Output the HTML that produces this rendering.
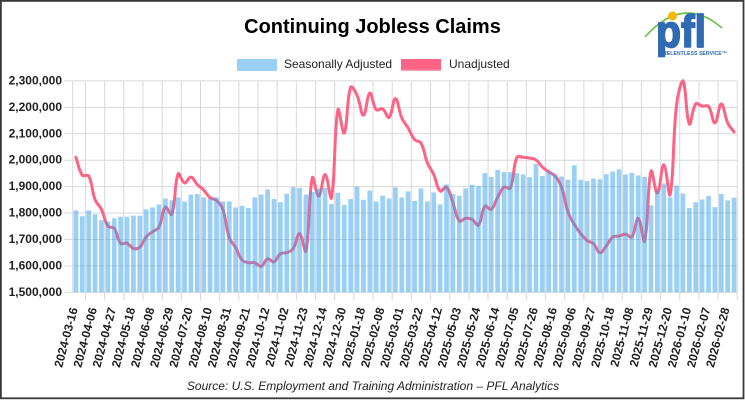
<!DOCTYPE html>
<html><head><meta charset="utf-8"><style>html,body{margin:0;padding:0;background:#fff}svg{display:block}</style></head>
<body>
<svg width="745" height="400" viewBox="0 0 745 400" font-family="'Liberation Sans', Arial, sans-serif">
<rect width="745" height="400" fill="#fff"/>
<g stroke="#d9d9d9" stroke-width="1">
<line x1="64" x2="737.3" y1="80.9" y2="80.9"/><line x1="64" x2="737.3" y1="107.4" y2="107.4"/><line x1="64" x2="737.3" y1="133.8" y2="133.8"/><line x1="64" x2="737.3" y1="160.2" y2="160.2"/><line x1="64" x2="737.3" y1="186.6" y2="186.6"/><line x1="64" x2="737.3" y1="213" y2="213"/><line x1="64" x2="737.3" y1="239.5" y2="239.5"/><line x1="64" x2="737.3" y1="265.9" y2="265.9"/><line x1="64" x2="737.3" y1="292.3" y2="292.3"/>
<line x1="72.7" x2="72.7" y1="80.9" y2="292.3"/>
<line x1="85.48" x2="85.48" y1="80.9" y2="300.5"/><line x1="104.65" x2="104.65" y1="80.9" y2="300.5"/><line x1="123.82" x2="123.82" y1="80.9" y2="300.5"/><line x1="142.99" x2="142.99" y1="80.9" y2="300.5"/><line x1="162.16" x2="162.16" y1="80.9" y2="300.5"/><line x1="181.33" x2="181.33" y1="80.9" y2="300.5"/><line x1="200.5" x2="200.5" y1="80.9" y2="300.5"/><line x1="219.67" x2="219.67" y1="80.9" y2="300.5"/><line x1="238.84" x2="238.84" y1="80.9" y2="300.5"/><line x1="258.01" x2="258.01" y1="80.9" y2="300.5"/><line x1="277.18" x2="277.18" y1="80.9" y2="300.5"/><line x1="296.35" x2="296.35" y1="80.9" y2="300.5"/><line x1="315.52" x2="315.52" y1="80.9" y2="300.5"/><line x1="334.69" x2="334.69" y1="80.9" y2="300.5"/><line x1="353.86" x2="353.86" y1="80.9" y2="300.5"/><line x1="373.03" x2="373.03" y1="80.9" y2="300.5"/><line x1="392.2" x2="392.2" y1="80.9" y2="300.5"/><line x1="411.37" x2="411.37" y1="80.9" y2="300.5"/><line x1="430.54" x2="430.54" y1="80.9" y2="300.5"/><line x1="449.71" x2="449.71" y1="80.9" y2="300.5"/><line x1="468.88" x2="468.88" y1="80.9" y2="300.5"/><line x1="488.05" x2="488.05" y1="80.9" y2="300.5"/><line x1="507.22" x2="507.22" y1="80.9" y2="300.5"/><line x1="526.39" x2="526.39" y1="80.9" y2="300.5"/><line x1="545.56" x2="545.56" y1="80.9" y2="300.5"/><line x1="564.73" x2="564.73" y1="80.9" y2="300.5"/><line x1="583.9" x2="583.9" y1="80.9" y2="300.5"/><line x1="603.07" x2="603.07" y1="80.9" y2="300.5"/><line x1="622.24" x2="622.24" y1="80.9" y2="300.5"/><line x1="641.41" x2="641.41" y1="80.9" y2="300.5"/><line x1="660.58" x2="660.58" y1="80.9" y2="300.5"/><line x1="679.75" x2="679.75" y1="80.9" y2="300.5"/><line x1="698.92" x2="698.92" y1="80.9" y2="300.5"/><line x1="718.09" x2="718.09" y1="80.9" y2="300.5"/><line x1="737.26" x2="737.26" y1="80.9" y2="300.5"/>
</g>

<path id="lnpath" d="" fill="none" stroke="#ff6384" stroke-width="3" stroke-linejoin="round" stroke-linecap="round"/>

<g transform="translate(72.7 292.3) scale(6.39 -0.2642)">
<polyline id="ln" fill="none" stroke="#ff6384" stroke-width="3" vector-effect="non-scaling-stroke" stroke-linejoin="round" points="0.5,511 1.5,443 2.5,441 3.5,351 4.5,314 5.5,251 6.5,242 7.5,185 8.5,186 9.5,166 10.5,171 11.5,210 12.5,229 13.5,247 14.5,322 15.5,295 16.5,448 17.5,414 18.5,436 19.5,408 20.5,387 21.5,358 22.5,348 23.5,314 24.5,207 25.5,169 26.5,122 27.5,112 28.5,112 29.5,98 30.5,127 31.5,115 32.5,146 33.5,150 34.5,165 35.5,222 36.5,156 37.5,433 38.5,364 39.5,446 40.5,358 41.5,691 42.5,603 43.5,776 44.5,746 45.5,670 46.5,754 47.5,691 48.5,694 49.5,662 50.5,733 51.5,660 52.5,622 53.5,578 54.5,565 55.5,490 56.5,446 57.5,383 58.5,398 59.5,339 60.5,270 61.5,280 62.5,276 63.5,254 64.5,326 65.5,314 66.5,360 67.5,398 68.5,395 69.5,510 70.5,511 71.5,508 72.5,501 73.5,474 74.5,456 75.5,440 76.5,398 77.5,305 78.5,257 79.5,222 80.5,196 81.5,184 82.5,150 83.5,175 84.5,209 85.5,213 86.5,220 87.5,210 88.5,280 89.5,194 90.5,458 91.5,376 92.5,483 93.5,370 94.5,710 95.5,801 96.5,637 97.5,713 98.5,705 99.5,704 100.5,641 101.5,713 102.5,641 103.5,607"/>
<g fill="rgba(54,162,235,0.5)">
<rect x="0.13" width=".74" height="310"/><rect x="1.13" width=".74" height="288"/><rect x="2.13" width=".74" height="310"/><rect x="3.13" width=".74" height="295"/><rect x="4.13" width=".74" height="273"/><rect x="5.13" width=".74" height="268"/><rect x="6.13" width=".74" height="280"/><rect x="7.13" width=".74" height="286"/><rect x="8.13" width=".74" height="286"/><rect x="9.13" width=".74" height="290"/>
<rect x="10.13" width=".74" height="290"/><rect x="11.13" width=".74" height="314"/><rect x="12.13" width=".74" height="321"/><rect x="13.13" width=".74" height="332"/><rect x="14.13" width=".74" height="355"/><rect x="15.13" width=".74" height="348"/><rect x="16.13" width=".74" height="359"/><rect x="17.13" width=".74" height="344"/><rect x="18.13" width=".74" height="370"/><rect x="19.13" width=".74" height="372"/>
<rect x="20.13" width=".74" height="359"/><rect x="21.13" width=".74" height="355"/><rect x="22.13" width=".74" height="359"/><rect x="23.13" width=".74" height="344"/><rect x="24.13" width=".74" height="344"/><rect x="25.13" width=".74" height="321"/><rect x="26.13" width=".74" height="327"/><rect x="27.13" width=".74" height="319"/><rect x="28.13" width=".74" height="359"/><rect x="29.13" width=".74" height="370"/>
<rect x="30.13" width=".74" height="389"/><rect x="31.13" width=".74" height="353"/><rect x="32.13" width=".74" height="341"/><rect x="33.13" width=".74" height="373"/><rect x="34.13" width=".74" height="398"/><rect x="35.13" width=".74" height="395"/><rect x="36.13" width=".74" height="370"/><rect x="37.13" width=".74" height="380"/><rect x="38.13" width=".74" height="393"/><rect x="39.13" width=".74" height="395"/>
<rect x="40.13" width=".74" height="334"/><rect x="41.13" width=".74" height="377"/><rect x="42.13" width=".74" height="331"/><rect x="43.13" width=".74" height="353"/><rect x="44.13" width=".74" height="400"/><rect x="45.13" width=".74" height="350"/><rect x="46.13" width=".74" height="385"/><rect x="47.13" width=".74" height="344"/><rect x="48.13" width=".74" height="366"/><rect x="49.13" width=".74" height="355"/>
<rect x="50.13" width=".74" height="397"/><rect x="51.13" width=".74" height="359"/><rect x="52.13" width=".74" height="382"/><rect x="53.13" width=".74" height="346"/><rect x="54.13" width=".74" height="393"/><rect x="55.13" width=".74" height="344"/><rect x="56.13" width=".74" height="378"/><rect x="57.13" width=".74" height="333"/><rect x="58.13" width=".74" height="408"/><rect x="59.13" width=".74" height="372"/>
<rect x="60.13" width=".74" height="366"/><rect x="61.13" width=".74" height="393"/><rect x="62.13" width=".74" height="407"/><rect x="63.13" width=".74" height="402"/><rect x="64.13" width=".74" height="451"/><rect x="65.13" width=".74" height="437"/><rect x="66.13" width=".74" height="463"/><rect x="67.13" width=".74" height="455"/><rect x="68.13" width=".74" height="455"/><rect x="69.13" width=".74" height="451"/>
<rect x="70.13" width=".74" height="446"/><rect x="71.13" width=".74" height="436"/><rect x="72.13" width=".74" height="486"/><rect x="73.13" width=".74" height="440"/><rect x="74.13" width=".74" height="459"/><rect x="75.13" width=".74" height="446"/><rect x="76.13" width=".74" height="438"/><rect x="77.13" width=".74" height="426"/><rect x="78.13" width=".74" height="481"/><rect x="79.13" width=".74" height="426"/>
<rect x="80.13" width=".74" height="421"/><rect x="81.13" width=".74" height="430"/><rect x="82.13" width=".74" height="428"/><rect x="83.13" width=".74" height="447"/><rect x="84.13" width=".74" height="457"/><rect x="85.13" width=".74" height="465"/><rect x="86.13" width=".74" height="446"/><rect x="87.13" width=".74" height="452"/><rect x="88.13" width=".74" height="442"/><rect x="89.13" width=".74" height="437"/>
<rect x="90.13" width=".74" height="329"/><rect x="91.13" width=".74" height="385"/><rect x="92.13" width=".74" height="412"/><rect x="93.13" width=".74" height="359"/><rect x="94.13" width=".74" height="404"/><rect x="95.13" width=".74" height="374"/><rect x="96.13" width=".74" height="319"/><rect x="97.13" width=".74" height="341"/><rect x="98.13" width=".74" height="351"/><rect x="99.13" width=".74" height="364"/>
<rect x="100.13" width=".74" height="322"/><rect x="101.13" width=".74" height="372"/><rect x="102.13" width=".74" height="348"/><rect x="103.13" width=".74" height="358"/>
</g>
</g>

<!-- Y labels -->
<g font-size="12" font-weight="bold" fill="#1f1f1f" text-anchor="end" dominant-baseline="central">
<text x="62" y="80.4">2,300,000</text><text x="62" y="106.9">2,200,000</text><text x="62" y="133.3">2,100,000</text><text x="62" y="159.7">2,000,000</text><text x="62" y="186.1">1,900,000</text><text x="62" y="212.5">1,800,000</text><text x="62" y="239">1,700,000</text><text x="62" y="265.4">1,600,000</text><text x="62" y="291.8">1,500,000</text>
</g>

<!-- X labels -->
<g font-size="12" font-weight="bold" fill="#1f1f1f" text-anchor="end" dominant-baseline="central">
<text transform="translate(74.0 307.8) rotate(-75)">2024-03-16</text>
<text transform="translate(93.2 307.8) rotate(-75)">2024-04-06</text>
<text transform="translate(112.3 307.8) rotate(-75)">2024-04-27</text>
<text transform="translate(131.5 307.8) rotate(-75)">2024-05-18</text>
<text transform="translate(150.7 307.8) rotate(-75)">2024-06-08</text>
<text transform="translate(169.8 307.8) rotate(-75)">2024-06-29</text>
<text transform="translate(189.0 307.8) rotate(-75)">2024-07-20</text>
<text transform="translate(208.2 307.8) rotate(-75)">2024-08-10</text>
<text transform="translate(227.4 307.8) rotate(-75)">2024-08-31</text>
<text transform="translate(246.5 307.8) rotate(-75)">2024-09-21</text>
<text transform="translate(265.7 307.8) rotate(-75)">2024-10-12</text>
<text transform="translate(284.9 307.8) rotate(-75)">2024-11-02</text>
<text transform="translate(304.0 307.8) rotate(-75)">2024-11-23</text>
<text transform="translate(323.2 307.8) rotate(-75)">2024-12-14</text>
<text transform="translate(342.4 307.8) rotate(-75)">2024-12-30</text>
<text transform="translate(361.5 307.8) rotate(-75)">2025-01-18</text>
<text transform="translate(380.7 307.8) rotate(-75)">2025-02-08</text>
<text transform="translate(399.9 307.8) rotate(-75)">2025-03-01</text>
<text transform="translate(419.1 307.8) rotate(-75)">2025-03-22</text>
<text transform="translate(438.2 307.8) rotate(-75)">2025-04-12</text>
<text transform="translate(457.4 307.8) rotate(-75)">2025-05-03</text>
<text transform="translate(476.6 307.8) rotate(-75)">2025-05-24</text>
<text transform="translate(495.7 307.8) rotate(-75)">2025-06-14</text>
<text transform="translate(514.9 307.8) rotate(-75)">2025-07-05</text>
<text transform="translate(534.1 307.8) rotate(-75)">2025-07-26</text>
<text transform="translate(553.2 307.8) rotate(-75)">2025-08-16</text>
<text transform="translate(572.4 307.8) rotate(-75)">2025-09-06</text>
<text transform="translate(591.6 307.8) rotate(-75)">2025-09-27</text>
<text transform="translate(610.8 307.8) rotate(-75)">2025-10-18</text>
<text transform="translate(629.9 307.8) rotate(-75)">2025-11-08</text>
<text transform="translate(649.1 307.8) rotate(-75)">2025-11-29</text>
<text transform="translate(668.3 307.8) rotate(-75)">2025-12-20</text>
<text transform="translate(687.4 307.8) rotate(-75)">2026-01-10</text>
<text transform="translate(706.6 307.8) rotate(-75)">2026-02-07</text>
<text transform="translate(725.8 307.8) rotate(-75)">2026-02-28</text>
</g>

<!-- Title -->
<text x="372.5" y="33" text-anchor="middle" font-size="20" font-weight="bold" fill="#000">Continuing Jobless Claims</text>

<!-- Legend -->
<rect x="237" y="59" width="40" height="12" fill="rgba(54,162,235,0.5)"/>
<text x="284" y="68" font-size="12" fill="#222">Seasonally Adjusted</text>
<rect x="401" y="59" width="40" height="12" fill="#ff6384"/>
<rect x="401" y="69.5" width="40" height="1.5" fill="#ff9bb0"/>
<text x="449" y="68" font-size="12" fill="#222">Unadjusted</text>

<!-- Source -->
<text x="373" y="390" text-anchor="middle" font-size="12" font-style="italic" fill="#222">Source: U.S. Employment and Training Administration – PFL Analytics</text>

<!-- Logo -->
<path d="M645,37 Q683,-6 722,28" fill="none" stroke="#6cc04a" stroke-width="1.6"/>
<g transform="translate(656 47) scale(1 1.1)">
<text x="0" y="0" font-size="41" font-weight="bold" fill="#2f6ab3" stroke="#2f6ab3" stroke-width="1.6" stroke-linejoin="round" textLength="50" lengthAdjust="spacingAndGlyphs">pfl</text>
</g>
<circle cx="672.5" cy="16" r="4.5" fill="#f5b800"/>
<text x="663" y="55" font-size="5.5" font-weight="bold" fill="#2f6ab3" textLength="64" lengthAdjust="spacingAndGlyphs">RELENTLESS SERVICE™</text>

<!-- Frame -->
<rect x="0.9" y="0.9" width="742.6" height="397.4" fill="none" stroke="#3a3a3a" stroke-width="1.8"/>
</svg>
<script>
(function(){
  var pl=document.getElementById('ln');
  var raw=pl.getAttribute('points').trim().split(/\s+/);
  var pts=raw.map(function(s){var a=s.split(',');return {x:72.7+parseFloat(a[0])*6.39,y:292.3-parseFloat(a[1])*0.2642};});
  var t=0.4,n=pts.length,cps=[];
  function cl(v){return Math.max(80.9,Math.min(292.3,v));}
  for(var i=0;i<n;i++){
    var p=pts[i],pr=pts[i-1]||p,nx=pts[i+1]||p;
    var d01=Math.hypot(p.x-pr.x,p.y-pr.y),d12=Math.hypot(nx.x-p.x,nx.y-p.y);
    var s=d01+d12,s01=s?d01/s:0,s12=s?d12/s:0;
    var fa=t*s01,fb=t*s12;
    cps.push({px:p.x-fa*(nx.x-pr.x),py:cl(p.y-fa*(nx.y-pr.y)),nx:p.x+fb*(nx.x-pr.x),ny:cl(p.y+fb*(nx.y-pr.y))});
  }
  var d='M'+pts[0].x.toFixed(2)+','+pts[0].y.toFixed(2);
  for(var j=1;j<n;j++){
    d+=' C'+cps[j-1].nx.toFixed(2)+','+cps[j-1].ny.toFixed(2)+' '+cps[j].px.toFixed(2)+','+cps[j].py.toFixed(2)+' '+pts[j].x.toFixed(2)+','+pts[j].y.toFixed(2);
  }
  document.getElementById('lnpath').setAttribute('d',d);
  pl.parentNode.removeChild(pl);
})();
</script>
</body></html>
